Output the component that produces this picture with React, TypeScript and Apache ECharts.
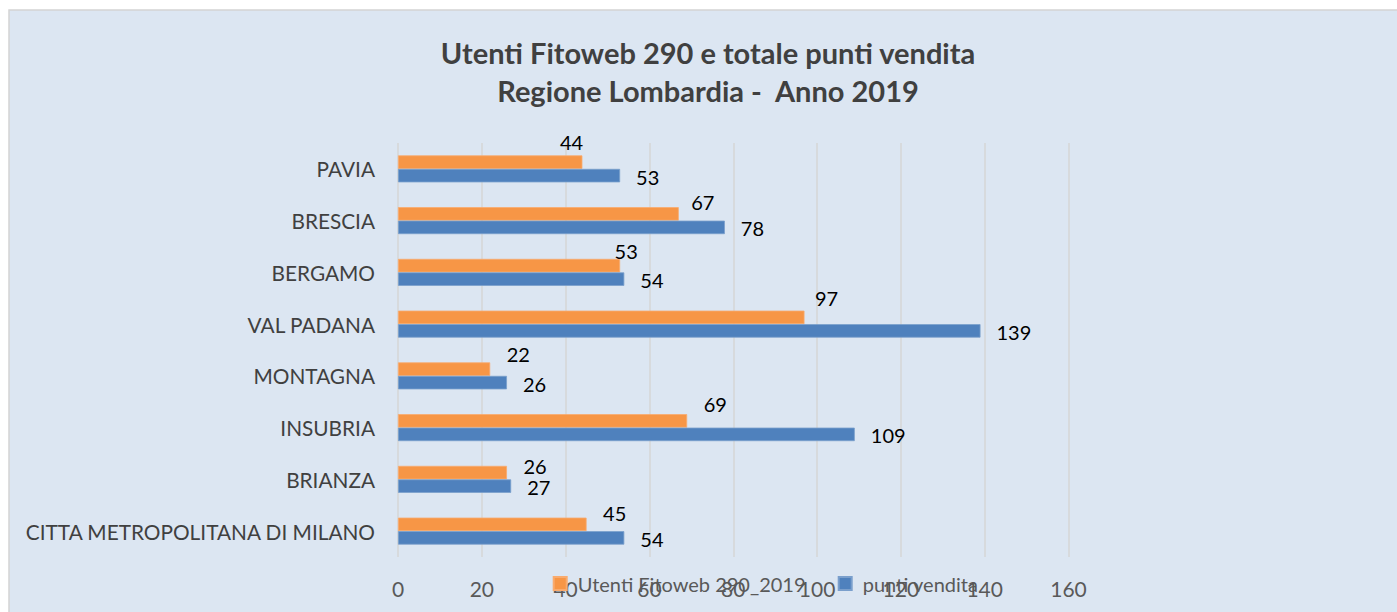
import { useEffect, useRef } from 'react';
import * as echarts from 'echarts';

const categories = [
  'PAVIA',
  'BRESCIA',
  'BERGAMO',
  'VAL PADANA',
  'MONTAGNA',
  'INSUBRIA',
  'BRIANZA',
  'CITTA METROPOLITANA DI MILANO',
];
const utentiFitoweb = [44, 67, 53, 97, 22, 69, 26, 45];
const puntiVendita = [53, 78, 54, 139, 26, 109, 27, 54];
const axisMin = 0;
const axisMax = 160;
const axisStep = 20;

const seriesNames = ['Utenti Fitoweb 290_2019', 'punti vendita'];
const titleText = 'Utenti Fitoweb 290 e totale punti vendita\nRegione Lombardia -  Anno 2019';

// nudges of the orange value labels, as placed in the reference [dx, dy]
const utentiLabelNudge = [
  [-39, -20],
  [-4, -12],
  [-22, -15],
  [-6, -19],
  [0, -15],
  [0, -17],
  [0, -7],
  [0, -11],
];

const FONT = 'Lato, "Open Sans", sans-serif';

export default function App() {
  const ref = useRef<HTMLDivElement>(null);
  useEffect(() => {
    const chart = echarts.init(ref.current!, null, { renderer: 'svg' });
    chart.setOption({
      animation: false,
      backgroundColor: '#ffffff',
      textStyle: { fontFamily: FONT },
      graphic: [
        {
          type: 'rect',
          z: -10,
          shape: { x: 9, y: 10, width: 1400, height: 610 },
          style: { fill: '#dce6f2', stroke: '#d4d4d4', lineWidth: 1.5 },
        },
      ],
      title: {
        text: titleText,
        left: 703,
        top: 28,
        textAlign: 'center',
        textStyle: {
          fontFamily: FONT,
          fontWeight: 'bold',
          fontSize: 29,
          lineHeight: 38,
          color: '#404040',
        },
      },
      legend: [
        {
          data: [seriesNames[0]],
          left: 552.7,
          top: 573.5,
          padding: 0,
          icon: 'rect',
          itemWidth: 13,
          itemHeight: 13,
          textStyle: { fontFamily: FONT, fontSize: 20, lineHeight: 20, color: '#595959', padding: [0, 0, 0, 6] },
        },
        {
          data: [seriesNames[1]],
          left: 837.7,
          top: 573.5,
          padding: 0,
          icon: 'rect',
          itemWidth: 13,
          itemHeight: 13,
          textStyle: { fontFamily: FONT, fontSize: 20, lineHeight: 20, color: '#595959', padding: [0, 0, 0, 6] },
        },
      ],
      grid: { left: 398, top: 143, width: 670.5, height: 414, containLabel: false },
      xAxis: {
        type: 'value',
        min: axisMin,
        max: axisMax,
        interval: axisStep,
        axisLine: { show: false },
        axisTick: { show: false },
        axisLabel: { fontFamily: FONT, fontSize: 21, color: '#595959', margin: 21 },
        splitLine: { show: true, lineStyle: { color: '#d6d6d6', width: 1.5 } },
      },
      yAxis: {
        type: 'category',
        data: categories,
        inverse: true,
        axisLine: { show: false },
        axisTick: { show: false },
        axisLabel: { fontFamily: FONT, fontSize: 20.8, color: '#404040', margin: 23 },
        splitLine: { show: false },
      },
      series: [
        {
          name: seriesNames[0],
          type: 'bar',
          data: utentiFitoweb.map((v, i) => ({
            value: v,
            label: { offset: utentiLabelNudge[i] },
          })),
          barWidth: 13.5,
          barGap: '0%',
          itemStyle: { color: '#f79646', borderColor: '#f9ab6e', borderWidth: 0.8 },
          label: {
            show: true,
            position: 'right',
            distance: 16.5,
            fontFamily: FONT,
            fontSize: 20,
            color: '#000000',
          },
        },
        {
          name: seriesNames[1],
          type: 'bar',
          data: puntiVendita,
          barWidth: 13.5,
          barGap: '0%',
          itemStyle: { color: '#4f81bd', borderColor: '#7a9fcc', borderWidth: 0.8 },
          label: {
            show: true,
            position: 'right',
            distance: 16,
            offset: [0, 1],
            fontFamily: FONT,
            fontSize: 20,
            color: '#000000',
          },
        },
      ],
    });
    return () => chart.dispose();
  }, []);
  return (
    <div
      ref={ref}
      style={{ position: 'fixed', left: 0, top: 0, width: 1397, height: 612 }}
    />
  );
}
